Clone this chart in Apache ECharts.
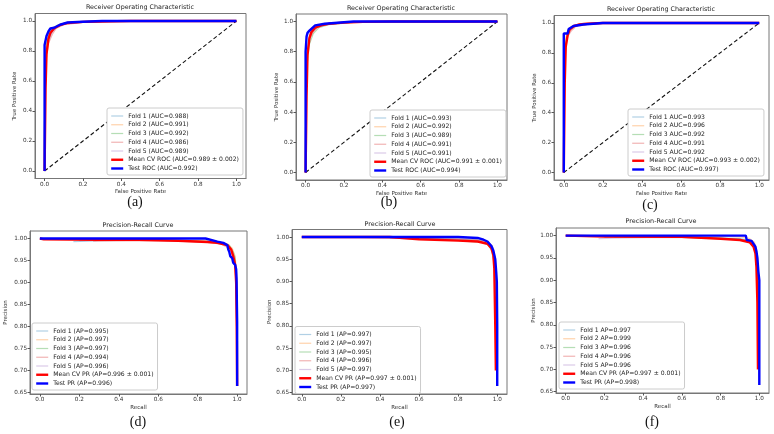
<!DOCTYPE html>
<html>
<head>
<meta charset="utf-8">
<script src="https://cdn.jsdelivr.net/npm/echarts@6/dist/echarts.min.js"></script>
<style>
  html, body { margin: 0; padding: 0; background: #fff; }
  #chart { width: 774px; height: 434px; }
</style>
</head>
<body>
<div id="chart"></div>
<script>
// ROC panels: [false positive rate, true positive rate]
const rocA_fold1 = [[0,0],[0,0.7],[0.01,0.8],[0.02,0.87],[0.04,0.93],[0.06,0.96],[0.1,0.98],[0.15,0.99],[0.3,0.998],[0.45,1],[1,1]];
const rocA_fold2 = [[0,0],[0,0.75],[0.01,0.83],[0.02,0.9],[0.03,0.93],[0.05,0.96],[0.1,0.985],[0.2,0.995],[0.35,1],[1,1]];
const rocA_fold3 = [[0,0],[0,0.78],[0.01,0.85],[0.02,0.91],[0.04,0.95],[0.07,0.975],[0.12,0.99],[0.25,1],[1,1]];
const rocA_fold4 = [[0,0],[0,0.65],[0.01,0.76],[0.02,0.85],[0.04,0.91],[0.06,0.95],[0.1,0.975],[0.2,0.99],[0.4,1],[1,1]];
const rocA_fold5 = [[0,0],[0,0.72],[0.01,0.8],[0.02,0.88],[0.04,0.93],[0.07,0.965],[0.12,0.985],[0.25,0.997],[0.4,1],[1,1]];
const rocA_mean = [[0,0],[0.005,0.55],[0.01,0.78],[0.02,0.88],[0.03,0.92],[0.05,0.952],[0.08,0.972],[0.12,0.987],[0.2,0.994],[0.3,0.997],[0.45,1],[1,1]];
const rocA_test = [[0,0],[0,0.84],[0.005,0.84],[0.005,0.87],[0.01,0.87],[0.01,0.9],[0.02,0.9],[0.02,0.93],[0.03,0.93],[0.03,0.95],[0.05,0.955],[0.05,0.965],[0.08,0.975],[0.12,0.99],[0.2,0.995],[0.3,1],[1,1]];

const rocB_fold1 = [[0,0],[0,0.72],[0.01,0.82],[0.02,0.9],[0.03,0.94],[0.05,0.965],[0.1,0.985],[0.2,0.995],[0.3,1],[1,1]];
const rocB_fold2 = [[0,0],[0,0.7],[0.01,0.8],[0.02,0.89],[0.04,0.94],[0.06,0.965],[0.1,0.98],[0.2,0.993],[0.35,1],[1,1]];
const rocB_fold3 = [[0,0],[0,0.6],[0.01,0.74],[0.02,0.85],[0.04,0.92],[0.07,0.96],[0.12,0.98],[0.25,0.995],[0.4,1],[1,1]];
const rocB_fold4 = [[0,0],[0,0.68],[0.01,0.79],[0.02,0.88],[0.04,0.93],[0.06,0.96],[0.1,0.98],[0.2,0.992],[0.4,1],[1,1]];
const rocB_fold5 = [[0,0],[0,0.66],[0.01,0.78],[0.02,0.88],[0.03,0.925],[0.06,0.96],[0.1,0.978],[0.2,0.993],[0.35,1],[1,1]];
const rocB_mean = [[0,0],[0.005,0.5],[0.01,0.78],[0.02,0.89],[0.03,0.93],[0.05,0.96],[0.08,0.975],[0.12,0.985],[0.2,0.993],[0.3,0.998],[0.45,1],[1,1]];
const rocB_test = [[0,0],[0,0.8],[0.005,0.8],[0.005,0.9],[0.01,0.9],[0.01,0.925],[0.02,0.925],[0.02,0.94],[0.03,0.95],[0.05,0.975],[0.1,0.985],[0.2,0.995],[0.25,1],[1,1]];

const rocC_fold1 = [[0,0],[0,0.78],[0.01,0.87],[0.02,0.93],[0.03,0.96],[0.05,0.98],[0.1,0.995],[0.2,1],[1,1]];
const rocC_fold2 = [[0,0],[0,0.82],[0.01,0.9],[0.02,0.95],[0.03,0.97],[0.05,0.985],[0.1,0.997],[0.15,1],[1,1]];
const rocC_fold3 = [[0,0],[0,0.75],[0.01,0.85],[0.02,0.92],[0.03,0.955],[0.06,0.98],[0.1,0.992],[0.2,1],[1,1]];
const rocC_fold4 = [[0,0],[0,0.72],[0.01,0.83],[0.02,0.91],[0.04,0.95],[0.06,0.975],[0.12,0.99],[0.2,1],[1,1]];
const rocC_fold5 = [[0,0],[0,0.76],[0.01,0.86],[0.02,0.92],[0.03,0.955],[0.05,0.975],[0.1,0.99],[0.2,1],[1,1]];
const rocC_mean = [[0,0],[0.005,0.6],[0.01,0.84],[0.02,0.92],[0.03,0.955],[0.05,0.978],[0.08,0.99],[0.12,0.995],[0.2,1],[1,1]];
const rocC_test = [[0,0],[0,0.93],[0.02,0.93],[0.02,0.94],[0.025,0.96],[0.03,0.97],[0.05,0.98],[0.1,0.99],[0.2,1],[1,1]];

// PR panels: [recall, precision]
const prD_fold1 = [[0.17,0.993],[0.3,0.995],[0.6,0.996],[0.8,0.993],[0.9,0.99],[0.95,0.985],[0.97,0.975],[0.985,0.955],[0.995,0.92],[1,0.75],[1,0.665]];
const prD_fold2 = [[0,1],[0.25,0.997],[0.5,0.997],[0.8,0.995],[0.9,0.992],[0.95,0.988],[0.975,0.978],[0.99,0.96],[0.997,0.92],[1,0.8],[1,0.665]];
const prD_fold3 = [[0,1],[0.3,0.998],[0.6,0.997],[0.85,0.994],[0.92,0.99],[0.96,0.985],[0.98,0.97],[0.99,0.955],[0.997,0.9],[1,0.665]];
const prD_fold4 = [[0.27,0.994],[0.5,0.995],[0.7,0.994],[0.85,0.991],[0.92,0.987],[0.95,0.98],[0.97,0.97],[0.985,0.95],[0.995,0.9],[1,0.665]];
const prD_fold5 = [[0.2,0.995],[0.4,0.996],[0.7,0.995],[0.88,0.992],[0.93,0.988],[0.96,0.98],[0.98,0.965],[0.99,0.945],[0.997,0.9],[1,0.665]];
const prD_mean = [[0,1],[0.02,0.998],[0.3,0.997],[0.5,0.997],[0.7,0.995],[0.85,0.992],[0.9,0.99],[0.95,0.985],[0.97,0.975],[0.98,0.96],[0.99,0.94],[0.995,0.9],[0.998,0.8],[1,0.665]];
const prD_test = [[0,1],[0.84,1],[0.845,0.996],[0.9,0.993],[0.93,0.99],[0.95,0.985],[0.955,0.975],[0.96,0.97],[0.965,0.96],[0.975,0.955],[0.98,0.945],[0.99,0.94],[0.995,0.93],[0.997,0.91],[1,0.81],[1,0.665]];

const prE_fold1 = [[0.45,0.998],[0.6,0.997],[0.8,0.995],[0.9,0.993],[0.95,0.99],[0.97,0.98],[0.985,0.96],[0.995,0.9],[1,0.665]];
const prE_fold2 = [[0,1],[0.5,0.999],[0.8,0.996],[0.9,0.994],[0.95,0.99],[0.975,0.98],[0.99,0.95],[0.997,0.88],[1,0.665]];
const prE_fold3 = [[0.6,0.996],[0.75,0.994],[0.85,0.99],[0.92,0.988],[0.95,0.983],[0.97,0.972],[0.985,0.94],[0.993,0.85],[1,0.665]];
const prE_fold4 = [[0.3,0.999],[0.6,0.996],[0.8,0.994],[0.9,0.991],[0.95,0.986],[0.975,0.975],[0.99,0.945],[0.996,0.85],[1,0.665]];
const prE_fold5 = [[0.5,0.999],[0.7,0.997],[0.85,0.995],[0.92,0.993],[0.95,0.99],[0.975,0.98],[0.99,0.955],[0.997,0.87],[1,0.665]];
const prE_mean = [[0,1],[0.45,1],[0.6,0.995],[0.8,0.992],[0.9,0.99],[0.95,0.985],[0.97,0.975],[0.98,0.96],[0.985,0.93],[0.99,0.8],[0.993,0.7]];
const prE_test = [[0,1],[0.8,1],[0.805,0.999],[0.9,0.998],[0.93,0.994],[0.95,0.99],[0.96,0.985],[0.97,0.98],[0.98,0.97],[0.99,0.95],[0.995,0.92],[0.998,0.9],[1,0.8],[1,0.665]];

const prF_fold1 = [[0.2,0.996],[0.5,0.997],[0.8,0.995],[0.9,0.993],[0.95,0.99],[0.97,0.982],[0.985,0.96],[0.995,0.9],[1,0.665]];
const prF_fold2 = [[0,1],[0.5,0.999],[0.85,0.998],[0.92,0.996],[0.95,0.993],[0.975,0.985],[0.99,0.96],[0.997,0.9],[1,0.665]];
const prF_fold3 = [[0.25,0.997],[0.6,0.996],[0.8,0.994],[0.9,0.992],[0.95,0.988],[0.97,0.98],[0.985,0.955],[0.995,0.88],[1,0.665]];
const prF_fold4 = [[0.3,0.997],[0.6,0.996],[0.8,0.993],[0.9,0.99],[0.95,0.985],[0.97,0.975],[0.985,0.95],[0.995,0.87],[1,0.665]];
const prF_fold5 = [[0.17,0.993],[0.25,0.994],[0.5,0.996],[0.8,0.994],[0.9,0.991],[0.95,0.987],[0.975,0.975],[0.99,0.94],[0.997,0.85],[1,0.665]];
const prF_mean = [[0,1],[0.2,0.998],[0.6,0.997],[0.8,0.993],[0.9,0.99],[0.95,0.985],[0.97,0.975],[0.98,0.96],[0.985,0.93],[0.99,0.85],[0.993,0.7]];
const prF_test = [[0,1],[0.93,1],[0.935,0.99],[0.96,0.988],[0.97,0.985],[0.98,0.975],[0.985,0.965],[0.99,0.95],[0.995,0.92],[1,0.9],[1,0.665]];

const chanceLine = [[0,0],[1,1]];

const labelsA = ['Fold 1 (AUC=0.988)','Fold 2 (AUC=0.991)','Fold 3 (AUC=0.992)','Fold 4 (AUC=0.986)','Fold 5 (AUC=0.989)','Mean CV ROC (AUC=0.989 ± 0.002)','Test ROC (AUC=0.992)'];
const labelsB = ['Fold 1 (AUC=0.993)','Fold 2 (AUC=0.992)','Fold 3 (AUC=0.989)','Fold 4 (AUC=0.991)','Fold 5 (AUC=0.991)','Mean CV ROC (AUC=0.991 ± 0.001)','Test ROC (AUC=0.994)'];
const labelsC = ['Fold 1 AUC=0.993','Fold 2 AUC=0.996','Fold 3 AUC=0.992','Fold 4 AUC=0.991','Fold 5 AUC=0.992','Mean CV ROC (AUC=0.993 ± 0.002)','Test ROC (AUC=0.997)'];
const labelsD = ['Fold 1 (AP=0.995)','Fold 2 (AP=0.997)','Fold 3 (AP=0.997)','Fold 4 (AP=0.994)','Fold 5 (AP=0.996)','Mean CV PR (AP=0.996 ± 0.001)','Test PR (AP=0.996)'];
const labelsE = ['Fold 1 (AP=0.997)','Fold 2 (AP=0.997)','Fold 3 (AP=0.995)','Fold 4 (AP=0.996)','Fold 5 (AP=0.997)','Mean CV PR (AP=0.997 ± 0.001)','Test PR (AP=0.997)'];
const labelsF = ['Fold 1 AP=0.997','Fold 2 AP=0.999','Fold 3 AP=0.996','Fold 4 AP=0.996','Fold 5 AP=0.996','Mean CV PR (AP=0.997 ± 0.001)','Test PR (AP=0.998)'];

const rocTicks = [0, 0.2, 0.4, 0.6, 0.8, 1.0];
const prTicks = [0.65, 0.70, 0.75, 0.80, 0.85, 0.90, 0.95, 1.00];

const foldColors = ['rgba(31,119,180,0.35)','rgba(255,127,14,0.35)','rgba(44,160,44,0.35)','rgba(214,39,40,0.35)','rgba(148,103,189,0.35)'];
const FONT = 'DejaVu Sans';

const panels = [
  { kind: 'roc', letter: '(a)', labels: labelsA, curves: [rocA_fold1, rocA_fold2, rocA_fold3, rocA_fold4, rocA_fold5, rocA_mean, rocA_test],
    grid: { left: 35, top: 13.5, width: 211, height: 165 }, legend: { left: 107, top: 108 }, title: [140, 7.5], letterPos: [135, 202], yGap: 17 },
  { kind: 'roc', letter: '(b)', labels: labelsB, curves: [rocB_fold1, rocB_fold2, rocB_fold3, rocB_fold4, rocB_fold5, rocB_mean, rocB_test],
    grid: { left: 296, top: 14, width: 211, height: 166 }, legend: { left: 370, top: 110 }, title: [401, 8], letterPos: [389, 202], yGap: 15 },
  { kind: 'roc', letter: '(c)', labels: labelsC, curves: [rocC_fold1, rocC_fold2, rocC_fold3, rocC_fold4, rocC_fold5, rocC_mean, rocC_test],
    grid: { left: 554, top: 15.5, width: 215, height: 164.5 }, legend: { left: 628, top: 109 }, title: [661, 9.5], letterPos: [650, 205], yGap: 16 },
  { kind: 'pr', letter: '(d)', labels: labelsD, curves: [prD_fold1, prD_fold2, prD_fold3, prD_fold4, prD_fold5, prD_mean, prD_test],
    grid: { left: 30, top: 231, width: 217, height: 163 }, legend: { left: 32, top: 323 }, title: [138, 225.5], letterPos: [138, 422], yGap: 21 },
  { kind: 'pr', letter: '(e)', labels: labelsE, curves: [prE_fold1, prE_fold2, prE_fold3, prE_fold4, prE_fold5, prE_mean, prE_test],
    grid: { left: 292, top: 229.5, width: 215, height: 164.5 }, legend: { left: 295, top: 326.5 }, title: [400, 224], letterPos: [397, 422], yGap: 19 },
  { kind: 'pr', letter: '(f)', labels: labelsF, curves: [prF_fold1, prF_fold2, prF_fold3, prF_fold4, prF_fold5, prF_mean, prF_test],
    grid: { left: 556, top: 228, width: 213, height: 165 }, legend: { left: 559, top: 322 }, title: [661, 221], letterPos: [652, 422], yGap: 19 }
];

const grids = [], xAxes = [], yAxes = [], legends = [], series = [], graphics = [];

panels.forEach((p, i) => {
  const isRoc = p.kind === 'roc';
  grids.push(Object.assign({ show: true, borderColor: '#777', borderWidth: 1, backgroundColor: '#fff', outerBoundsMode: 'none' }, p.grid));

  const axisCommon = {
    gridIndex: i, type: 'value',
    splitLine: { show: false },
    axisLine: { show: true, onZero: false, lineStyle: { color: '#777', width: 1 } },
    nameLocation: 'middle',
    nameTextStyle: { fontFamily: FONT, fontSize: 5.5, color: '#333' }
  };
  xAxes.push(Object.assign({}, axisCommon, {
    min: -0.05, max: 1.05,
    name: isRoc ? 'False Positive Rate' : 'Recall', nameGap: 10.5,
    axisTick: { show: true, customValues: rocTicks, length: 2.5, lineStyle: { color: '#555' } },
    axisLabel: { customValues: rocTicks, formatter: v => v.toFixed(1), fontFamily: FONT, fontSize: 5.7, color: '#333', margin: 3 }
  }));
  yAxes.push(Object.assign({}, axisCommon, isRoc ? {
    min: -0.05, max: 1.05,
    name: 'True Positive Rate', nameGap: p.yGap,
    axisTick: { show: true, customValues: rocTicks, length: 2.5, lineStyle: { color: '#555' } },
    axisLabel: { customValues: rocTicks, formatter: v => v.toFixed(1), fontFamily: FONT, fontSize: 5.7, color: '#333', margin: 3 }
  } : {
    min: 0.647, max: 1.017,
    name: 'Precision', nameGap: p.yGap,
    axisTick: { show: true, customValues: prTicks, length: 2.5, lineStyle: { color: '#555' } },
    axisLabel: { customValues: prTicks, formatter: v => v.toFixed(2), fontFamily: FONT, fontSize: 5.7, color: '#333', margin: 3 }
  }));

  if (isRoc) {
    series.push({
      type: 'line', name: 'chance' + i, xAxisIndex: i, yAxisIndex: i, data: chanceLine,
      symbol: 'none', silent: true, z: 1,
      lineStyle: { color: '#111', width: 1.1, type: [4, 2.5] }
    });
  }

  p.curves.forEach((curve, k) => {
    const isFold = k < 5;
    const color = isFold ? foldColors[k] : (k === 5 ? '#ff0000' : '#0000ff');
    series.push({
      type: 'line', name: p.labels[k], xAxisIndex: i, yAxisIndex: i, data: curve,
      symbol: 'none', showSymbol: false, z: isFold ? 2 : (k === 5 ? 3 : 4),
      lineStyle: { color: color, width: isFold ? 1.2 : 2.4 },
      itemStyle: { color: color }
    });
  });

  legends.push({
    orient: 'vertical', left: p.legend.left, top: p.legend.top,
    data: p.labels,
    itemWidth: 12, itemHeight: 7, itemGap: 1.75,
    padding: [4.5, 4, 3, 3],
    backgroundColor: '#fff', borderColor: '#ccc', borderWidth: 1, borderRadius: 2,
    selectedMode: false,
    // matplotlib-style handles: line only, no marker
    itemStyle: { opacity: 0, borderWidth: 0 },
    lineStyle: { width: 'inherit' },
    textStyle: { fontFamily: FONT, fontSize: 6.1, color: '#222', lineHeight: 7 }
  });

  graphics.push({
    type: 'text', x: p.title[0], y: p.title[1], silent: true,
    style: { text: isRoc ? 'Receiver Operating Characteristic' : 'Precision-Recall Curve',
      font: '6.4px "DejaVu Sans"', fill: '#222', align: 'center', verticalAlign: 'middle' }
  });
  graphics.push({
    type: 'text', x: p.letterPos[0], y: p.letterPos[1], silent: true,
    style: { text: p.letter, font: '14px "Liberation Serif"', fill: '#111', align: 'center', verticalAlign: 'middle' }
  });
});

const chart = echarts.init(document.getElementById('chart'), null, { renderer: 'canvas' });
chart.setOption({
  backgroundColor: '#fff',
  animation: false,
  textStyle: { fontFamily: FONT },
  grid: grids,
  xAxis: xAxes,
  yAxis: yAxes,
  legend: legends,
  series: series,
  graphic: graphics
});
</script>
</body>
</html>
